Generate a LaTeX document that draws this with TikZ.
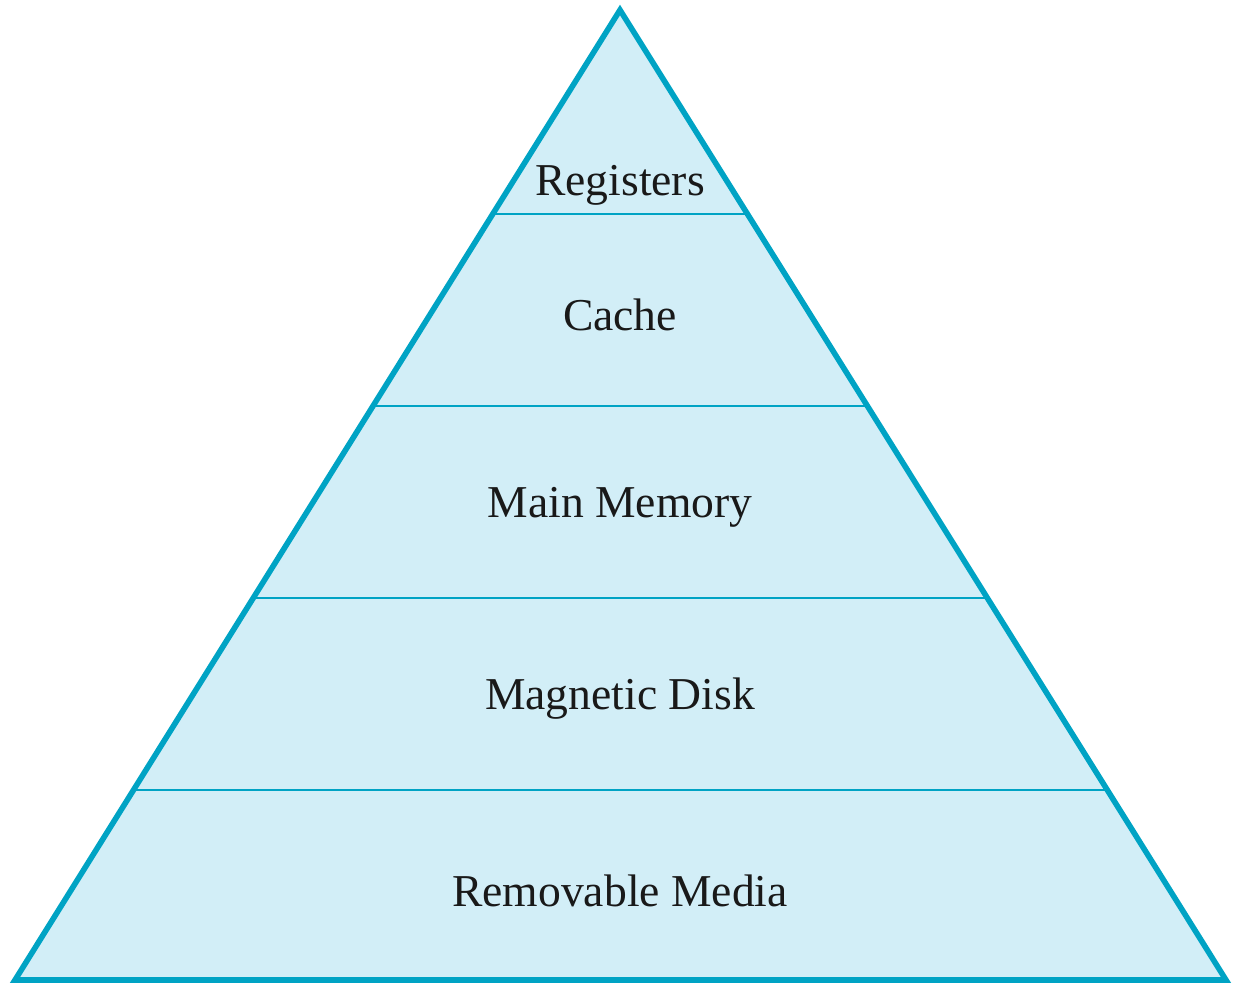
\documentclass[tikz,border=0pt]{standalone}
\usepackage{fontspec}
\setmainfont{Liberation Serif}
\usetikzlibrary{calc}
\definecolor{edgeteal}{HTML}{00A3C4}
\definecolor{bandfill}{HTML}{D2EEF7}
\tikzset{
  level/.style={font=\fontsize{22.8}{26}\selectfont, text=black!90},
  divider/.style={draw=edgeteal, line width=1.1pt}
}
\begin{document}
\begin{tikzpicture}[x=0.5pt,y=-0.5pt]
      \useasboundingbox (0,0) rectangle (1233,985);
      \coordinate (apex) at (620,10);
      \coordinate (bl) at (15,980);
      \coordinate (br) at (1226,980);
      \fill[bandfill] (apex) -- (bl) -- (br) -- cycle;
      % dividing lines between the levels
      \foreach \t [count=\i] in {0.2103,0.4082,0.6062,0.8041} {
        \coordinate (l\i) at ($(apex)!\t!(bl)$);
        \coordinate (r\i) at ($(apex)!\t!(br)$);
        \draw[divider] (l\i) -- (r\i);
      }
      \draw[edgeteal, line width=2.8pt, line join=miter] (apex) -- (bl) -- (br) -- cycle;
      \node[level] (registers) at (620,185) {Registers};
      \node[level] (cache) at (620,315) {Cache};
      \node[level] (mainmem) at (620,507) {Main Memory};
      \node[level] (magdisk) at (620,699) {Magnetic Disk};
      \node[level] (removable) at (620,891) {Removable Media};
    \end{tikzpicture}
\end{document}
